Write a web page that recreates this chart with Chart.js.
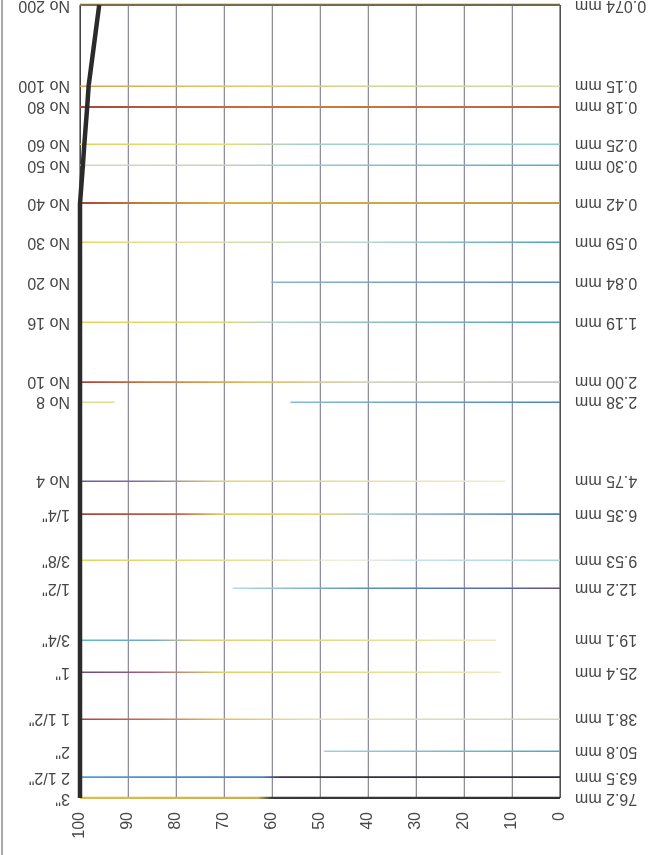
<!DOCTYPE html>
<html>
<head>
<meta charset="utf-8">
<script src="https://cdn.jsdelivr.net/npm/chart.js@4/dist/chart.umd.min.js"></script>
<style>
  html, body { margin: 0; padding: 0; background: #fff; overflow: hidden; }
  /* the grading sheet is printed turned half a revolution */
  #sheet { position: relative; width: 648px; height: 855px; transform: rotate(180deg); transform-origin: 50% 50%; }
  #sheet canvas { position: absolute; left: 0; top: 0; }
  #edge { position: absolute; right: 1px; top: 0; width: 2px; height: 855px; background: #a8a8a8; }
</style>
</head>
<body>
<div id="sheet">
  <canvas id="grading" width="648" height="855"></canvas>
  <div id="edge"></div>
</div>
<script>
// Sieve openings (mm), finest to coarsest
const sieveSizes = [0.074, 0.15, 0.18, 0.25, 0.30, 0.42, 0.59, 0.84, 1.19, 2.00, 2.38,
                    4.75, 6.35, 9.53, 12.2, 19.1, 25.4, 38.1, 50.8, 63.5, 76.2];
const mmLabels = ['0.074 mm', '0.15 mm', '0.18 mm', '0.25 mm', '0.30 mm', '0.42 mm', '0.59 mm',
                  '0.84 mm', '1.19 mm', '2.00 mm', '2.38 mm', '4.75 mm', '6.35 mm', '9.53 mm',
                  '12.2 mm', '19.1 mm', '25.4 mm', '38.1 mm', '50.8 mm', '63.5 mm', '76.2 mm'];
const sieveNames = ['No 200', 'No 100', 'No 80', 'No 60', 'No 50', 'No 40', 'No 30', 'No 20',
                    'No 16', 'No 10', 'No 8', 'No 4', '1/4"', '3/8"', '1/2"', '3/4"', '1"',
                    '1 1/2"', '2"', '2 1/2"', '3"'];
// Percent passing at each sieve
const percentPassing = [96, 98.2, 98.5, 99.1, 99.4, 100, 100, 100, 100, 100, 100,
                        100, 100, 100, 100, 100, 100, 100, 100, 100, 100];
// Percent axis ticks
const percentTicks = [0, 10, 20, 30, 40, 50, 60, 70, 80, 90, 100];
const percentTickLabels = ['0', '10', '20', '30', '40', '50', '60', '70', '80', '90', '100'];

// Ink of each sieve line along the percent axis: [percent, colour] stops
const T = 'rgba(255,255,255,0)';
const sieveLineInk = [
  [[0, '#6c6848'], [100, '#7c7040']],
  [[0, '#d4d8a8'], [40, '#cfd49a'], [70, '#e2c466'], [100, '#d8a24a']],
  [[0, '#b8623e'], [50, '#d0783a'], [80, '#c0603a'], [100, '#a8453c']],
  [[0, '#8ccad6'], [55, '#a8d0c8'], [70, '#e6de78'], [100, '#e4d45a']],
  [[0, '#5aa8c0'], [55, '#9ccad2'], [70, '#cfcfb8'], [100, '#d8d6c2']],
  [[0, '#c49a44'], [70, '#dcb048'], [90, '#c07038'], [100, '#a8453c']],
  [[0, '#4aa0b8'], [40, '#b8d6d0'], [80, '#e8e0a0'], [100, '#e4d860']],
  [[0, '#5a8ab8'], [60, '#8ab4d2'], [60.5, T], [100, T]],
  [[0, '#4aa0b8'], [60, '#b0d2c4'], [70, '#e0d878'], [100, '#e4d45a']],
  [[0, '#c4c4c4'], [40, '#d6d4c4'], [65, '#e2bc62'], [85, '#c87840'], [100, '#a8453c']],
  [[0, '#4a88b0'], [56, '#86bcd2'], [56.5, T], [92.5, T], [93, '#d8e090'], [100, '#d8e090']],
  [[0, T], [11, T], [11.5, '#f0ecd0'], [40, '#e8e0a0'], [70, '#e2d470'], [85, '#8e70a0'], [100, '#6a58a0']],
  [[0, '#4a80b0'], [40, '#b0d0d0'], [50, '#e8d880'], [70, '#e4d060'], [80, '#c06048'], [100, '#a8453c']],
  [[0, '#a8d4e2'], [30, '#c4e2ea'], [45, 'rgba(230,225,190,0.5)'], [62, '#e6dea0'], [100, '#e4d45a']],
  [[0, '#6a4a80'], [10, '#5068a8'], [40, '#5a90b8'], [68, '#b0dce4'], [68.5, T], [100, T]],
  [[0, T], [13, T], [13.5, '#f0e8c0'], [30, '#e8e0a0'], [75, '#e0d070'], [85, '#70a8c8'], [100, '#60b8d0']],
  [[0, T], [12, T], [12.5, '#f0e8c0'], [30, '#e8e0a0'], [70, '#e2d266'], [85, '#a06080'], [100, '#6a4a8a']],
  [[0, '#c8d8c0'], [50, '#e8e0b0'], [70, '#e0c060'], [85, '#c87050'], [100, '#b04040']],
  [[0, '#50a8b8'], [49, '#a0d0d8'], [49.5, T], [100, T]],
  [[0, '#302838'], [58, '#3a3050'], [62, '#4a80c0'], [100, '#50a0d0']],
  [[0, '#303030'], [60, '#383838'], [63, '#c8b050'], [100, '#d8c050']]
];
const sieveLineWidth = [2.2, 1.6, 2, 1.5, 1.4, 2, 1.5, 1.5, 1.6, 1.7, 1.5,
                        1.5, 1.7, 1.4, 1.6, 1.5, 1.6, 1.6, 1.4, 1.8, 2.2];

const FONT = '"Liberation Sans", Arial, sans-serif';
const gradientCache = {};

function sieveLineColour(context) {
  const chart = context.chart;
  const x = chart.scales.x;
  if (!chart.chartArea || !x) return 'rgba(0,0,0,0)';
  const i = context.index;
  const key = i + ':' + chart.chartArea.left + ':' + chart.chartArea.right;
  if (gradientCache[key]) return gradientCache[key];
  const x0 = x.getPixelForValue(0);
  const x1 = x.getPixelForValue(100);
  const g = chart.ctx.createLinearGradient(x0, 0, x1, 0);
  sieveLineInk[i].forEach(([p, c]) => g.addColorStop(p / 100, c));
  gradientCache[key] = g;
  return g;
}

// Vertical percent labels, reading downward
const percentLabels = {
  id: 'percentLabels',
  afterDraw(chart) {
    const { ctx, chartArea, scales: { x } } = chart;
    ctx.save();
    ctx.font = '16px ' + FONT;
    ctx.fillStyle = '#474747';
    ctx.textAlign = 'right';
    ctx.textBaseline = 'middle';
    percentTicks.forEach((v, i) => {
      ctx.save();
      ctx.translate(x.getPixelForValue(v), chartArea.top - 14);
      ctx.rotate(Math.PI / 2);
      ctx.fillText(percentTickLabels[i], 0, 0);
      ctx.restore();
    });
    ctx.restore();
  }
};

const sieveTicks = axis => { axis.ticks = sieveSizes.map(v => ({ value: v })); };
// size axes run right to the sheet edge; end labels may run off it
const sizeAxisFit = w => s => { s.width = w; s.paddingTop = 0; s.paddingBottom = 0; };

new Chart(document.getElementById('grading'), {
  type: 'line',
  data: {
    datasets: [{
      data: sieveSizes.map((s, i) => ({ x: percentPassing[i], y: s })),
      borderColor: '#2b2b2b',
      borderWidth: 4.5,
      pointRadius: 0,
      tension: 0,
      clip: false
    }]
  },
  options: {
    responsive: false,
    animation: false,
    layout: { padding: { top: 0, left: 0, right: 0, bottom: 5 } },
    plugins: { legend: { display: false }, tooltip: { enabled: false } },
    scales: {
      x: {
        type: 'linear',
        position: 'top',
        min: 0,
        max: 100,
        ticks: { display: false, stepSize: 10 },
        grid: {
          drawTicks: false,
          color: c => (c.tick && c.tick.value === 0) ? '#525252' : (c.tick && c.tick.value === 100) ? '#454545' : '#8f8d9c',
          lineWidth: c => (c.tick && (c.tick.value === 0 || c.tick.value === 100)) ? 1.6 : 1.3
        },
        border: { display: false },
        afterFit: s => { s.height = 57; s.paddingLeft = 0; s.paddingRight = 0; }
      },
      y: {
        type: 'logarithmic',
        position: 'left',
        min: 0.074,
        max: 76.2,
        afterBuildTicks: sieveTicks,
        ticks: {
          autoSkip: false,
          padding: 15,
          color: '#474747',
          font: { family: FONT, size: 16 },
          callback: (v, i) => mmLabels[i]
        },
        grid: {
          drawTicks: false,
          color: sieveLineColour,
          lineWidth: c => sieveLineWidth[c.index]
        },
        border: { display: false },
        afterFit: sizeAxisFit(88)
      },
      y2: {
        type: 'logarithmic',
        position: 'right',
        min: 0.074,
        max: 76.2,
        afterBuildTicks: sieveTicks,
        ticks: {
          autoSkip: false,
          padding: 10,
          color: '#474747',
          font: { family: FONT, size: 16 },
          callback: (v, i) => sieveNames[i]
        },
        grid: { display: false, drawTicks: false },
        border: { display: false },
        afterFit: sizeAxisFit(80)
      }
    }
  },
  plugins: [percentLabels]
});
</script>
</body>
</html>
